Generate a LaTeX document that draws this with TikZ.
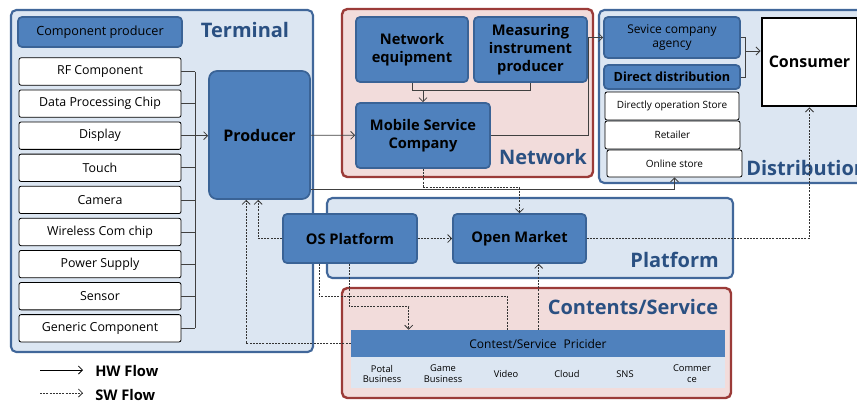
\documentclass[tikz,border=0pt]{standalone}
\usepackage{fontspec}
\setmainfont{Open Sans}
\usetikzlibrary{arrows.meta,fit,calc}

\definecolor{blueF}{HTML}{4F81BD}
\definecolor{blueB}{HTML}{3A6396}
\definecolor{contF}{HTML}{DCE6F2}
\definecolor{contB}{HTML}{41679A}
\definecolor{redF}{HTML}{F2DCDB}
\definecolor{redB}{HTML}{9B3B38}
\definecolor{titleC}{HTML}{2A5082}

\newcommand{\fs}[2]{\fontsize{#1}{#2}\selectfont}

\tikzset{
  area/.style={draw=contB, fill=contF, line width=1.6pt, rounded corners=4pt, inner sep=0pt},
  redarea/.style={draw=redB, fill=redF, line width=1.8pt, rounded corners=4pt, inner sep=0pt},
  bluebox/.style={draw=blueB, fill=blueF, line width=1.3pt, rounded corners=3pt, inner sep=0pt,
    align=center, font=\bfseries\fs{11}{13.5}},
  item/.style={draw=black, fill=white, line width=0.6pt, rounded corners=1.5pt, inner sep=0pt,
    font=\fs{9.3}{11}},
  smallitem/.style={item, font=\fs{7.5}{9}},
  title/.style={text=titleC, font=\bfseries\fs{15}{18}, inner sep=0pt},
  tip/.style={-{Straight Barb[length=3pt,width=6pt]}},
  hw/.style={draw=black!75, line width=0.6pt},
  sw/.style={draw=black!80, line width=0.6pt, dash pattern=on 1.5pt off 0.9pt},
  flowlabel/.style={font=\bfseries\fs{11}{13}, anchor=west, inner sep=0pt},
  svc/.style={font=\fs{7}{8.2}, align=center, inner sep=0pt}
}

\begin{document}
\begin{tikzpicture}[x=0.75pt,y=-0.75pt]
\useasboundingbox (0,0) rectangle (857,401);
\clip (0,0) rectangle (857,401);

% ---------- group areas ----------
\node[area, fit={(11,10) (313,352)}] (terminal) {};
\node[redarea, fit={(342,9) (593,177)}] (network) {};
\node[area, fit={(599,10) (880,183)}] (distribution) {};
\node[area, fit={(327,198) (733,278)}] (platform) {};
\node[redarea, fit={(342,288) (731,398)}] (contents) {};

\node[title] (tTerminal) at (245,30) {Terminal};
\node[title] (tNetwork) at (543,157) {Network};
\node[title, anchor=west] (tDistribution) at (746,168) {Distribution};
\node[title, anchor=east] (tPlatform) at (719,260) {Platform};
\node[title] (tContents) at (633,307) {Contents/Service};

% ---------- terminal ----------
\node[bluebox, font=\fs{9.5}{11}, fit={(18,17) (182,47)}] (cprod) {};
\node[font=\fs{9.5}{11}] at (cprod) {Component producer};

\foreach \n/\t [count=\i from 0] in {rf/RF Component, dpc/Data Processing Chip, disp/Display,
    touch/Touch, cam/Camera, wcc/Wireless Com chip, pow/Power Supply, sens/Sensor,
    gen/Generic Component}{
  \node[item, minimum width=121.5pt, minimum height=20.5pt] (\n) at (100,71.5+32.1*\i) {\t};
}

\node[bluebox, rounded corners=6pt, fit={(209,71) (310,199)}] (prod) {};
\node[font=\bfseries\fs{12}{14}] at (prod) {Producer};

\coordinate (busx) at (195,0);
\foreach \n in {rf,dpc,disp,touch,cam,wcc,pow,sens,gen}{
  \draw[hw] (\n.east) -- (\n.east -| busx);
}
\draw[hw] (rf.east -| busx) -- (gen.east -| busx);
\draw[hw, tip] (disp.east -| busx) -- (disp.east -| prod.west);

% ---------- network ----------
\node[bluebox, fit={(356,17) (468,82)}] (neq) {};
\node[align=center, font=\bfseries\fs{11}{13.5}] at (neq) {Network\\equipment};
\node[bluebox, fit={(474,17) (587,82)}] (mip) {};
\node[align=center, font=\bfseries\fs{11}{13.5}] at (mip) {Measuring\\instrument\\producer};
\node[bluebox, fit={(356,103) (490,168)}] (msc) {};
\node[align=center, font=\bfseries\fs{11}{13.5}] at (msc) {Mobile Service\\Company};

\draw[hw] (neq.south) -- ++(0,8) -| (mip.south);
\coordinate (njoin) at ($(neq.south)+(11,8)$);
\draw[hw, tip] (njoin) -- (njoin |- msc.north);
\draw[hw, tip] (prod) -- (msc);

% ---------- distribution ----------
\node[bluebox, fit={(604,17) (740,58)}] (sca) {};
\node[align=center, font=\fs{9}{11}] at (sca) {Sevice company\\agency};
\node[bluebox, fit={(604,65) (740,89)}] (dd) {};
\node[font=\bfseries\fs{9.5}{11}] at (dd) {Direct distribution};
\node[smallitem, fit={(605,92) (739,120)}] (dos) {};
\node[font=\fs{7.5}{9}] at (dos) {Directly operation Store};
\node[smallitem, fit={(605,121) (740,149)}] (ret) {};
\node[font=\fs{7.5}{9}] at (ret) {Retailer};
\node[smallitem, fit={(607,150) (742,177)}] (onl) {};
\node[font=\fs{7.5}{9}] at (onl) {Online store};

\node[draw=black, fill=white, line width=2.2pt, inner sep=0pt, fit={(762,18) (857,106)}] (cons) {};
\node[font=\bfseries\fs{12}{14}] at (cons) {Consumer};

\draw[hw] (sca.east) -- ++(5,0) |- (dd.east);
\coordinate (djoin) at ($(sca.east)+(5,13.5)$);
\draw[hw, tip] (djoin) -- (djoin -| cons.west);

\draw[hw, tip] (msc.east) -- ++(98,0) |- (sca.west);
\draw[hw, tip] ([yshift=7.5pt]prod.south east) -| (onl.south);

% ---------- platform ----------
\node[bluebox, fit={(283,214) (417,263)}] (os) {};
\node[font=\bfseries\fs{11}{13}] at (os) {OS Platform};
\node[bluebox, fit={(453,214) (586,263)}] (om) {};
\node[font=\bfseries\fs{11}{13}] at (om) {Open Market};

\draw[sw, tip] (os) -- (om);
\draw[sw, tip] (om.east) -| (cons.south);
\draw[sw, tip] (msc.south) -- ++(0,19) -| (om.north);
\draw[sw, tip] (os.west) -| ($(prod.south west)+(50,0)$);

% ---------- contents / service ----------
\node[fill=contF, inner sep=0pt, fit={(351,357) (725,388)}] (band) {};
\node[fill=blueF, inner sep=0pt, fit={(351,330) (725,357)}] (csp) {};
\node[font=\fs{9}{11}] at (csp) {Contest/Service\hspace{3pt} Pricider};

\node[svc] (s1) at (382,374) {Potal\\Business};
\node[svc] (s2) at (443,374) {Game\\Business};
\node[svc] (s3) at (506,374) {Video};
\node[svc] (s4) at (567,374) {Cloud};
\node[svc] (s5) at (625,374) {SNS};
\node[svc] (s6) at (692,374) {Commer\\ce};

\draw[sw, tip] (csp.west) -| ($(prod.south west)+(38,0)$);
\coordinate (cspup) at ($(csp.north west)+(188,0)$);
\draw[sw, tip] (cspup) -- (cspup |- om.south);
\draw[sw] ($(os.south west)+(37,0)$) |- ($(csp.north west)+(157,-33)$) -- ($(csp.north west)+(157,0)$);
\draw[sw, tip] ($(os.south west)+(67,0)$) |- ($(csp.north west)+(58,-23)$) -- ($(csp.north west)+(58,0)$);

% ---------- legend ----------
\coordinate (hwA) at (40,370);
\coordinate (hwB) at (83,370);
\draw[hw, draw=black, tip] (hwA) -- (hwB);
\node[flowlabel] (hwL) at (95,371) {HW Flow};
\coordinate (swA) at (40,393);
\coordinate (swB) at (83,393);
\draw[sw, tip] (swA) -- (swB);
\node[flowlabel] (swL) at (95,395) {SW Flow};
\end{tikzpicture}
\end{document}
